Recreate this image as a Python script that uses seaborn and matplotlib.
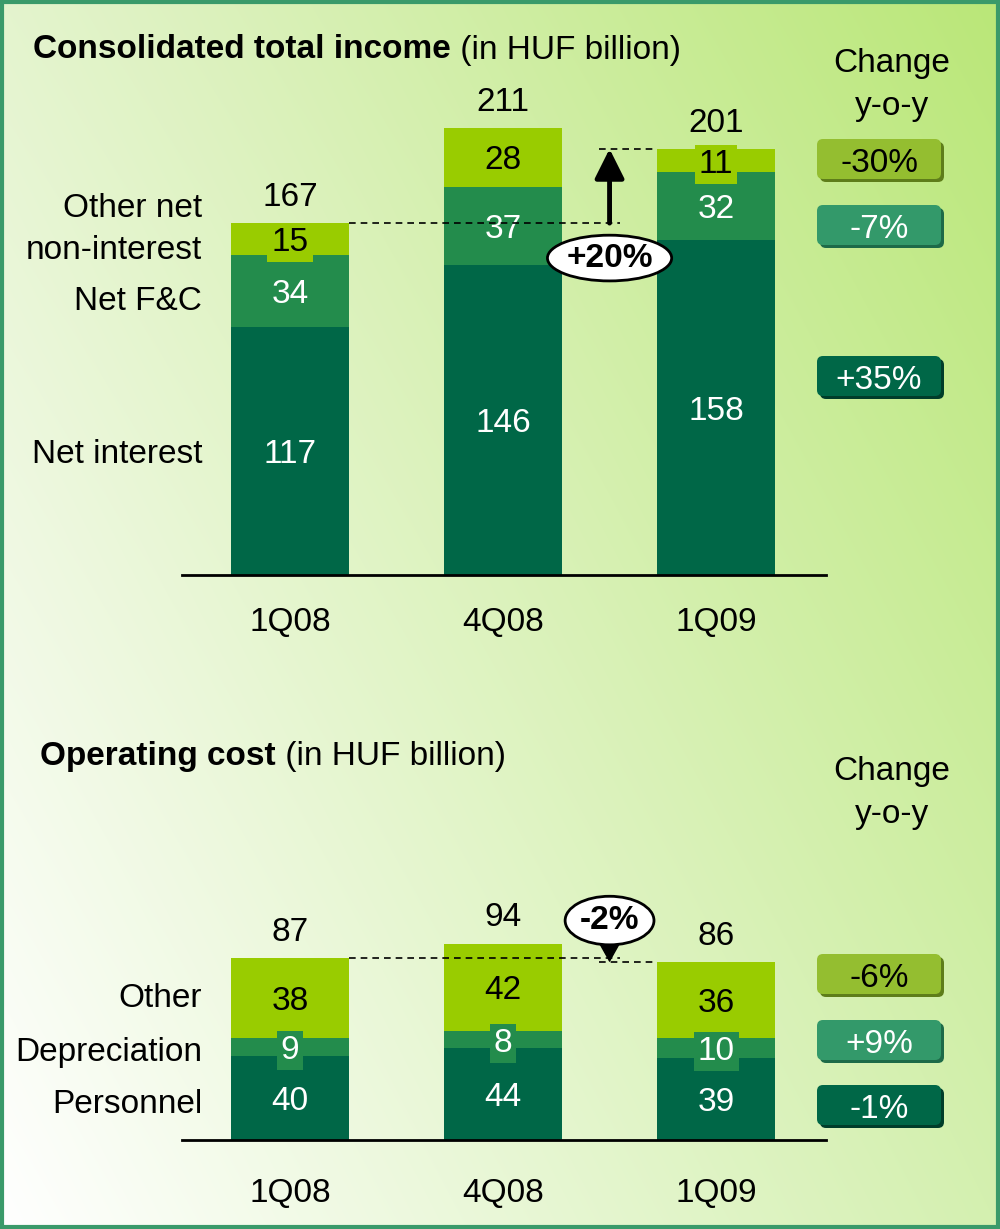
import numpy as np
import seaborn as sns
import matplotlib.pyplot as plt
from matplotlib.patches import FancyBboxPatch, Rectangle

sns.set_style('white')
plt.rcParams['font.family'] = ['Liberation Sans', 'DejaVu Sans']
plt.rcParams['font.size'] = 24
plt.rcParams['text.color'] = 'black'
plt.rcParams['xtick.color'] = 'black'

quarters = ['1Q08', '4Q08', '1Q09']

# consolidated total income (HUF bn), bottom -> top
net_interest = [117, 146, 158]
net_fc = [34, 37, 32]
other_income = [15, 28, 11]
income_total = [167, 211, 201]
income_rows = ['Net interest', 'Net F&C', 'Other net\nnon-interest']
income_change = ['+35%', '-7%', '-30%']
income_growth = '+20%'

# operating cost (HUF bn), bottom -> top
personnel = [40, 44, 39]
depreciation = [9, 8, 10]
other_cost = [38, 42, 36]
cost_total = [87, 94, 86]
cost_rows = ['Personnel', 'Depreciation', 'Other']
cost_change = ['-1%', '+9%', '-6%']
cost_growth = '-2%'

dark, mid, light = '#006747', '#238c4c', '#99cc00'
seg_colors = [dark, mid, light]
txt_colors = ['white', 'white', 'black']
box_fill = ['#006747', '#33996a', '#94be30']
box_shadow = ['#003d2a', '#1d6a48', '#5e7d1a']
box_text = ['white', 'white', 'black']
W = 0.554

fig = plt.figure(figsize=(10, 12.29), dpi=100)

# background gradient + frame (pixel coordinates)
bg = fig.add_axes([0, 0, 1, 1], zorder=-1)
bg.set_xlim(0, 1000)
bg.set_ylim(1229, 0)
bg.axis('off')
tl, tr = np.array([228, 244, 206]), np.array([186, 231, 120])
bl, br = np.array([255, 255, 255]), np.array([212, 240, 176])
u = np.linspace(0, 1, 200)[None, :, None]
v = np.linspace(0, 1, 246)[:, None, None]
grad = (tl * (1 - u) * (1 - v) + tr * u * (1 - v) + bl * (1 - u) * v + br * u * v) / 255
bg.imshow(grad, extent=[0, 1000, 1229, 0], aspect='auto', interpolation='bilinear')
bg.add_patch(Rectangle((2, 2), 996, 1225, fill=False, ec='#3a9a6a', lw=3))


def title(y, bold, x):
    t = bg.text(x, y, bold, weight='bold', va='center', ha='left')
    bg.annotate(' (in HUF billion)', xy=(1, 0.5), xycoords=t, va='center', ha='left')


def change_col(yc, labels, top):
    bg.text(892, top, 'Change\ny-o-y', ha='center', va='center', linespacing=1.5)
    for i, lab in enumerate(labels):
        x0, y0 = 817, yc[i] - 21
        bg.add_patch(FancyBboxPatch((x0 + 3, y0 + 3), 124, 40, boxstyle='round,pad=0,rounding_size=6',
                                    fc=box_shadow[i], ec='none'))
        bg.add_patch(FancyBboxPatch((x0, y0), 124, 40, boxstyle='round,pad=0,rounding_size=6',
                                    fc=box_fill[i], ec='none'))
        bg.text(x0 + 62, yc[i], lab, ha='center', va='center_baseline', color=box_text[i])


def stacked(ax, layers, totals, rows, row_y, ymax, pad):
    cum = np.cumsum(layers, axis=0)
    for i in [2, 1, 0]:
        sns.barplot(x=quarters, y=cum[i], color=seg_colors[i], saturation=1, width=W,
                    linewidth=0, ax=ax, zorder=2)
    for i in range(3):
        for j in range(3):
            yc = cum[i][j] - layers[i][j] / 2
            ax.text(j, yc, str(layers[i][j]), ha='center', va='center_baseline',
                    color=txt_colors[i], zorder=4,
                    bbox=dict(boxstyle='square,pad=0.12', fc=seg_colors[i], ec='none'))
        ax.text(-0.413, row_y[i], rows[i], ha='right', va='center', linespacing=1.45)
    for j, t in enumerate(totals):
        ax.annotate(str(t), xy=(j, cum[2][j]), xytext=(0, 21), textcoords='offset points',
                    ha='center', va='center_baseline')
    ax.set_xlim(-0.507, 2.516)
    ax.set_ylim(0, ymax)
    ax.set_facecolor('none')
    sns.despine(ax=ax, left=True)
    ax.spines['bottom'].set_linewidth(2)
    ax.spines['bottom'].set_color('black')
    ax.set_yticks([])
    ax.tick_params(axis='x', length=0, pad=pad, labelsize=24)
    ax.set_xlabel('')
    ax.set_ylabel('')
    return cum


# ---- income chart ----
ax1 = fig.add_axes([0.182, (1229 - 575) / 1229, 0.644, 240 * 2.12 / 1229])
cum1 = stacked(ax1, [net_interest, net_fc, other_income], income_total, income_rows,
               [57, 129, 163], 240, 23)
t0, t2 = cum1[2][0], cum1[2][2]
ax1.plot([W / 2, 1.55], [t0, t0], ls=(0, (4, 3)), color='black', lw=1.2, zorder=5)
ax1.plot([1.45, 2 - W / 2], [t2, t2], ls=(0, (4, 3)), color='black', lw=1.2, zorder=5)
ax1.annotate('', xy=(1.5, t2), xytext=(1.5, t0),
             arrowprops=dict(arrowstyle='-|>,head_length=0.9,head_width=0.45', lw=3.5,
                             color='black', shrinkA=0, shrinkB=0, mutation_scale=20), zorder=6)
ax1.text(1.5, 149.5, income_growth, ha='center', va='center', weight='bold', zorder=7,
         bbox=dict(boxstyle='ellipse,pad=0.02', fc='white', ec='black', lw=2))

# ---- cost chart ----
ax2 = fig.add_axes([0.182, (1229 - 1140) / 1229, 0.644, 110 * 2.09 / 1229])
cum2 = stacked(ax2, [personnel, depreciation, other_cost], cost_total, cost_rows,
               [17, 42, 67.5], 110, 27)
c0, c2 = cum2[2][0], cum2[2][2]
ax2.plot([W / 2, 1.55], [c0, c0], ls=(0, (4, 3)), color='black', lw=1.2, zorder=5)
ax2.plot([1.45, 2 - W / 2], [c2, c2], ls=(0, (4, 3)), color='black', lw=1.2, zorder=5)
ax2.annotate(cost_growth, xy=(1.5, c2), xytext=(1.5, 105), ha='center', va='center',
             weight='bold', zorder=7,
             bbox=dict(boxstyle='ellipse,pad=0.05', fc='white', ec='black', lw=2),
             arrowprops=dict(arrowstyle='-|>,head_length=0.8,head_width=0.45', color='black',
                             lw=1, shrinkA=0, shrinkB=0, mutation_scale=20))

title(50, 'Consolidated total income', 33)
title(757, 'Operating cost', 40)
change_col([377, 226, 160], income_change, 85)
change_col([1106, 1041, 975], cost_change, 793)

fig.savefig('out.png', dpi=100)
